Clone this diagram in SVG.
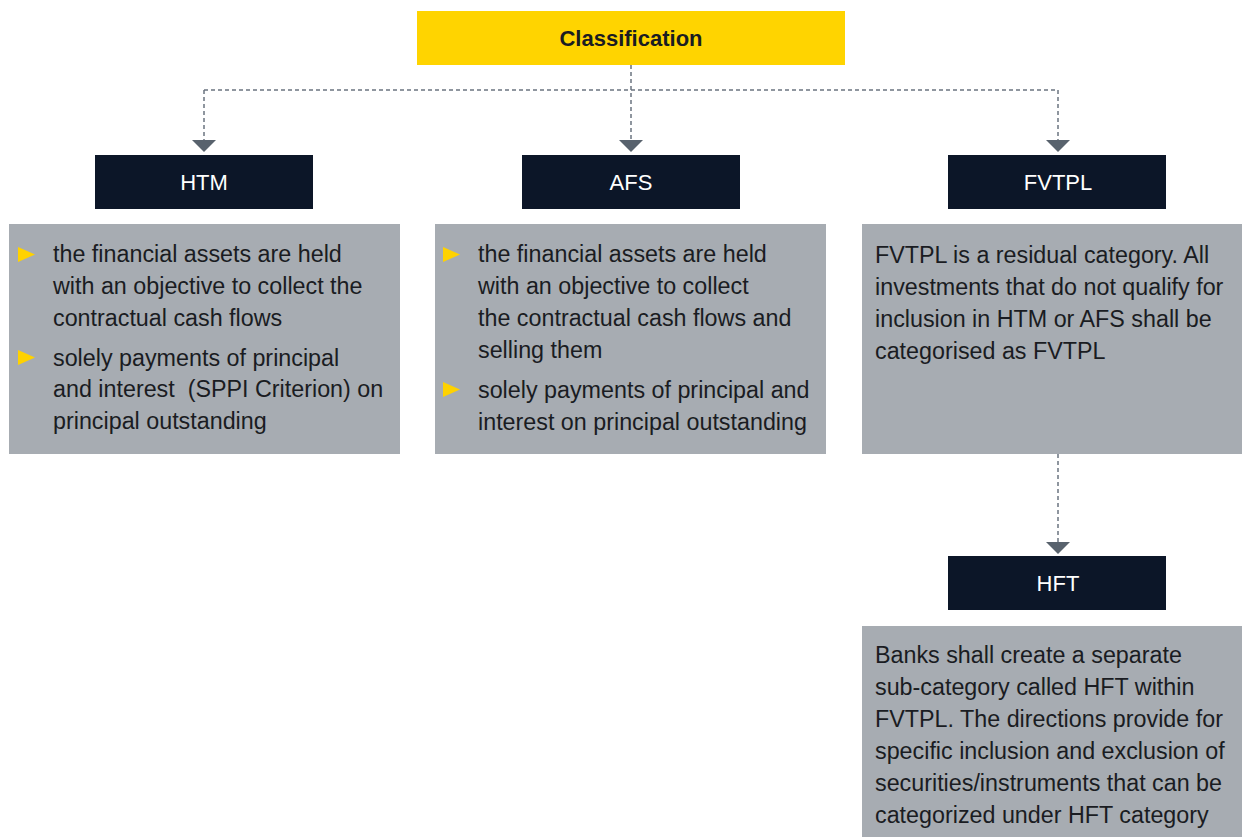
<svg xmlns="http://www.w3.org/2000/svg" width="1242" height="837" viewBox="0 0 1242 837">
<defs>
<style>
.t{font-family:"Liberation Sans",Arial,sans-serif;font-size:23.3px;fill:#1a1c22;white-space:pre}
.h{font-family:"Liberation Sans",Arial,sans-serif;font-size:22px;fill:#ffffff;text-anchor:middle}
.dark{fill:#0c1628}
.grey{fill:#a7acb2}
.conn{fill:none;stroke:#6b7480;stroke-width:1.5;stroke-dasharray:4 3}
.arr{fill:#58626d}
.bul{fill:#ffd200}
</style>
</defs>
<rect width="1242" height="837" fill="#ffffff"/>
<g id="connectors">
<path class="conn" d="M631 65 V140 M204 90 H1058 M204 90 V140 M1058 90 V140"/>
<path class="conn" d="M1058 454 V542"/>
<polygon class="arr" points="192,140 216,140 204,152"/>
<polygon class="arr" points="619,140 643,140 631,152"/>
<polygon class="arr" points="1046,140 1070,140 1058,152"/>
<polygon class="arr" points="1046,542 1070,542 1058,554"/>
</g>
<g id="classification">
<rect x="417" y="11" width="428" height="54" fill="#ffd400"/>
<text x="631" y="46" font-family="Liberation Sans, Arial, sans-serif" font-size="22" font-weight="bold" fill="#1a1c22" text-anchor="middle">Classification</text>
</g>
<g id="htm">
<rect class="dark" x="95" y="155" width="218" height="54"/>
<text class="h" x="204" y="190">HTM</text>
</g>
<g id="afs">
<rect class="dark" x="522" y="155" width="218" height="54"/>
<text class="h" x="631" y="190">AFS</text>
</g>
<g id="fvtpl">
<rect class="dark" x="948" y="155" width="218" height="54"/>
<text class="h" x="1058" y="190">FVTPL</text>
</g>
<g id="htm-desc">
<rect class="grey" x="9" y="224" width="391" height="230"/>
<polygon class="bul" points="18,247 35,254.5 18,262"/>
<polygon class="bul" points="18,350 35,357.5 18,365"/>
<text class="t"><tspan x="53" y="262">the financial assets are held</tspan><tspan x="53" y="294">with an objective to collect the</tspan><tspan x="53" y="326">contractual cash flows</tspan><tspan x="53" y="366">solely payments of principal</tspan><tspan x="53" y="397">and interest  (SPPI Criterion) on</tspan><tspan x="53" y="429">principal outstanding</tspan></text>
</g>
<g id="afs-desc">
<rect class="grey" x="435" y="224" width="391" height="230"/>
<polygon class="bul" points="443,247 460,254.5 443,262"/>
<polygon class="bul" points="443,382 460,389.5 443,397"/>
<text class="t"><tspan x="478" y="262">the financial assets are held</tspan><tspan x="478" y="294">with an objective to collect</tspan><tspan x="478" y="326">the contractual cash flows and</tspan><tspan x="478" y="358">selling them</tspan><tspan x="478" y="398">solely payments of principal and</tspan><tspan x="478" y="430">interest on principal outstanding</tspan></text>
</g>
<g id="fvtpl-desc">
<rect class="grey" x="862" y="224" width="380" height="230"/>
<text class="t"><tspan x="875" y="263">FVTPL is a residual category. All</tspan><tspan x="875" y="295">investments that do not qualify for</tspan><tspan x="875" y="327">inclusion in HTM or AFS shall be</tspan><tspan x="875" y="359">categorised as FVTPL</tspan></text>
</g>
<g id="hft">
<rect class="dark" x="948" y="556" width="218" height="54"/>
<text class="h" x="1058" y="591">HFT</text>
</g>
<g id="hft-desc">
<rect class="grey" x="862" y="626" width="380" height="211"/>
<text class="t"><tspan x="875" y="663">Banks shall create a separate</tspan><tspan x="875" y="695">sub-category called HFT within</tspan><tspan x="875" y="727">FVTPL. The directions provide for</tspan><tspan x="875" y="759">specific inclusion and exclusion of</tspan><tspan x="875" y="791">securities/instruments that can be</tspan><tspan x="875" y="823">categorized under HFT category</tspan></text>
</g>
</svg>
